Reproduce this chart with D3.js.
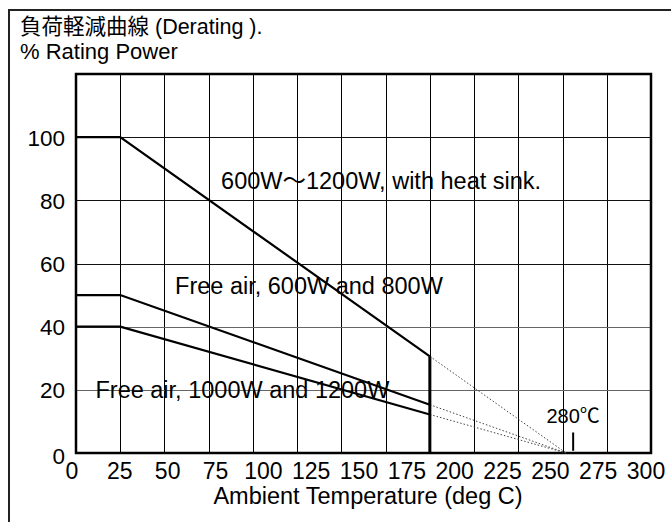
<!DOCTYPE html>
<html><head><meta charset="utf-8">
<script src="https://cdn.jsdelivr.net/npm/d3@7"></script>
<style>
html,body{margin:0;padding:0;background:#fff;}
svg{display:block;}
text{font-family:"Liberation Sans",Arial,"Noto Sans CJK JP",sans-serif;fill:#000;}
</style></head>
<body>
<script>
// ---- data ----
const titleLine1 = "負荷軽減曲線 (Derating ).";
const titleLine2 = "% Rating Power";
const xAxisTitle = "Ambient Temperature (deg C)";
const xTickLabels = ["0","25","50","75","100","125","150","175","200","225","250","275","300"];
const yTickValues = [0,20,40,60,80,100];
const gridXValues = [0,25,50,75,100,125,150,175,200,225,250,275,300,325];
const gridYValues = [0,20,40,60,80,100,120];
const heatSink   = [{t:0,p:100},{t:25,p:100},{t:200,p:30.6}];
const freeAir600 = [{t:0,p:50},{t:25,p:50},{t:200,p:15.3}];
const freeAir1000= [{t:0,p:40},{t:25,p:40},{t:200,p:12.2}];
const zeroPoint  = {t:277,p:0};
const dropT = 200;
const markerT = 281;
const labels = [
  {text:"600W～1200W, with heat sink.", t:82, p:83.5},
  {text:"Free air, 600W and 800W", t:56, p:50.5},
  {text:"Free air, 1000W and 1200W", t:11, p:17.3}
];
const markerLabel = "280℃";

// ---- layout ----
const W = 671, H = 522;
const L = 76, R = 651, T = 74, B = 453;
const FS = 23;
const svg = d3.select("body").append("svg").attr("width",W).attr("height",H);

// outer frame
svg.append("rect").attr("x",9).attr("y",10).attr("width",W+20).attr("height",H+20)
  .attr("fill","none").attr("stroke","#222").attr("stroke-width",2);

const x = d3.scaleLinear().domain([0,325]).range([L,R]);
const y = d3.scaleLinear().domain([0,120]).range([B,T]);
const xl = d3.scalePoint().domain(xTickLabels).range([72,646]);
const px = v => Math.round(v)+0.5;

// grid
svg.append("g").selectAll("line").data(gridXValues).join("line")
  .attr("x1",d=>px(x(d))).attr("x2",d=>px(x(d))).attr("y1",T).attr("y2",B)
  .attr("stroke","#000").attr("stroke-width",1);
svg.append("g").selectAll("line").data(gridYValues).join("line")
  .attr("x1",L).attr("x2",R).attr("y1",d=>px(y(d))).attr("y2",d=>px(y(d)))
  .attr("stroke",d=>(d===20||d===40)?"#666":"#111").attr("stroke-width",1);

// plot border
svg.append("rect").attr("x",L).attr("y",T).attr("width",R-L).attr("height",B-T)
  .attr("fill","none").attr("stroke","#000").attr("stroke-width",2.5);

// tick labels
svg.append("g").selectAll("text").data(yTickValues).join("text")
  .attr("x",65).attr("y",d=>y(d)+(d===0?11:8.5)).attr("text-anchor","end").attr("font-size",22.5)
  .text(d=>d);
svg.append("g").selectAll("text").data(xTickLabels).join("text")
  .attr("x",d=>xl(d)).attr("y",479).attr("text-anchor","middle").attr("font-size",FS)
  .text(d=>d);
svg.append("text").attr("x",368).attr("y",504).attr("text-anchor","middle").attr("font-size",23.5).text(xAxisTitle);
svg.append("text").attr("x",20).attr("y",34).attr("font-size",21.5).text(titleLine1);
svg.append("text").attr("x",20).attr("y",59).attr("font-size",22).text(titleLine2);

// curves
const line = d3.line().x(d=>x(d.t)).y(d=>y(d.p));
[heatSink,freeAir600,freeAir1000].forEach(s=>{
  svg.append("path").attr("d",line(s)).attr("fill","none").attr("stroke","#000").attr("stroke-width",2.2);
  svg.append("path").attr("d",line([s[s.length-1],zeroPoint])).attr("fill","none")
    .attr("stroke","#444").attr("stroke-width",1).attr("stroke-dasharray","1.5,2");
});
// vertical drop
svg.append("line").attr("x1",x(dropT)).attr("x2",x(dropT)).attr("y1",y(0)).attr("y2",y(heatSink[2].p))
  .attr("stroke","#000").attr("stroke-width",3);

// annotations
svg.append("g").selectAll("text").data(labels).join("text")
  .attr("x",d=>x(d.t)).attr("y",d=>y(d.p)).attr("font-size",23.5).text(d=>d.text);
svg.append("text").attr("x",x(markerT)).attr("y",y(9.5)).attr("text-anchor","middle").attr("font-size",20).text(markerLabel);
svg.append("line").attr("x1",x(markerT)).attr("x2",x(markerT)).attr("y1",y(6.5)).attr("y2",y(0.7))
  .attr("stroke","#000").attr("stroke-width",2);
</script>
</body></html>
